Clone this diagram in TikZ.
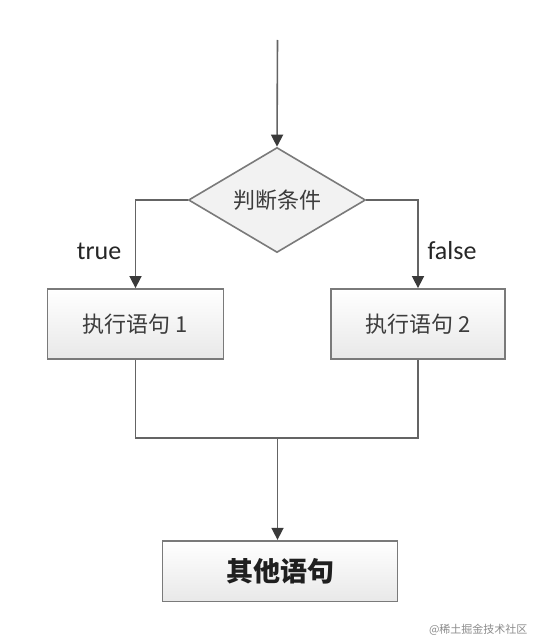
\documentclass[tikz,border=0pt]{standalone}
\usepackage{fontspec}
\setmainfont{Carlito}
\newfontfamily\cjk{Noto Sans CJK SC}
\usetikzlibrary{shapes.geometric,arrows.meta}
\definecolor{linegray}{HTML}{646464}
\definecolor{boxborder}{HTML}{7A7A7A}
\definecolor{txtgray}{HTML}{3C3C3C}
\definecolor{tipgray}{HTML}{3A3A3A}
\tikzset{
  conn/.style={draw=linegray, line width=1.6pt},
  arr/.style={conn, -{Triangle[width=12pt,length=12pt,color=tipgray]}},
  procbox/.style={draw=boxborder, line width=1.8pt, top color=white, bottom color=black!9,
    minimum width=176pt, minimum height=70pt, inner sep=0pt,
    font=\cjk\fontsize{22}{24}\selectfont, text=txtgray},
  decision/.style={diamond, draw=boxborder, line width=1.6pt, fill=black!5,
    minimum width=177pt, minimum height=105pt, inner sep=0pt, aspect=1.686,
    font=\cjk\fontsize{22}{24}\selectfont, text=txtgray},
  branchlbl/.style={font=\fontsize{26}{28}\selectfont, text=black!85},
}
\begin{document}
\begin{tikzpicture}[x=1pt,y=-1pt]
\useasboundingbox[fill=white] (0,0) rectangle (534,642);
\coordinate (start) at (277.5,40);
\node[decision] (cond) at (277,200) {判断条件};
\node[procbox] (b1) at (135.5,324) {执行语句 1};
\node[procbox, minimum width=174.5pt] (b2) at (418,324) {执行语句 2};
\node[procbox, minimum width=235pt, minimum height=61.5pt, font=\cjk\bfseries\fontsize{27}{30}\selectfont, text=black!88] (b3) at (280,571.5) {其他语句};
\fill[white] (0,601.5) rectangle (534,642);
\coordinate (merge) at (277.5,438);
\draw[arr] (start) -- (cond.north);
\draw[arr] (cond.west) -| (b1.north);
\draw[arr] (cond.east) -| (b2.north);
\node[branchlbl] (tl) at (99,251) {true};
\node[branchlbl] (fl) at (452,251) {false};
\draw[conn] (b1.south) |- (merge);
\draw[conn] (b2.south) |- (merge);
\draw[arr] (merge) -- (merge |- b3.north);
\node[font=\cjk\fontsize{11}{12}\selectfont, text=black!45, anchor=east] (wm) at (531,630) {@稀土掘金技术社区};
\end{tikzpicture}
\end{document}
